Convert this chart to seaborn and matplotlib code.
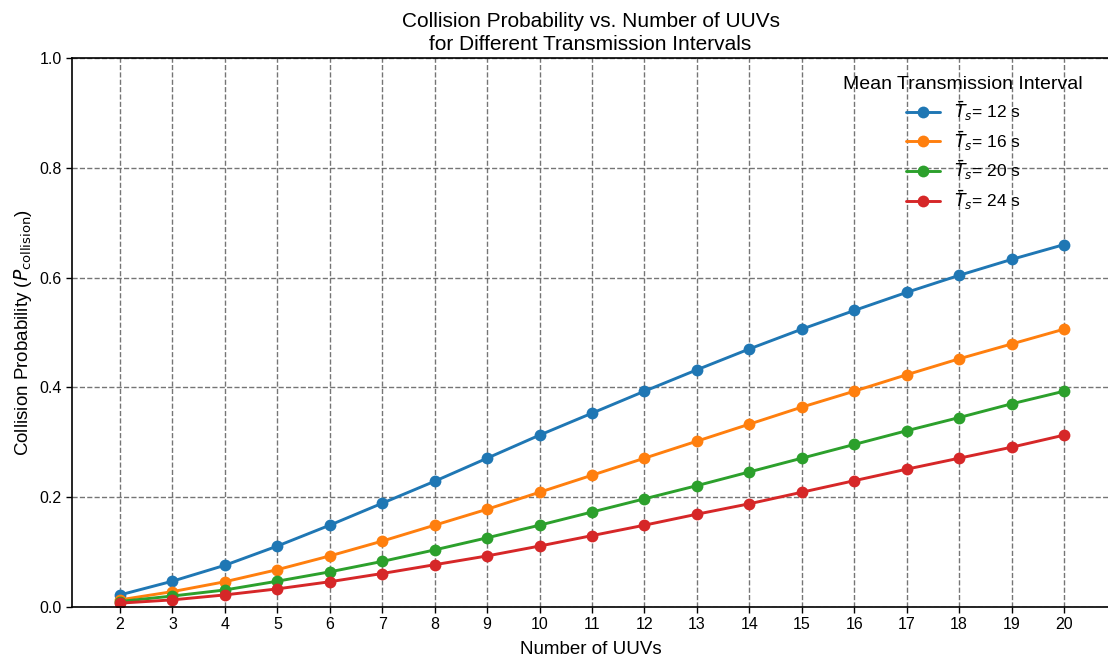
import matplotlib
matplotlib.use("Agg")
import matplotlib.pyplot as plt
import seaborn as sns
import pandas as pd

# Number of UUVs in the network
num_uuvs = list(range(2, 21))

# Mean transmission intervals (seconds)
intervals = [12, 16, 20, 24]

# Collision probability for each mean transmission interval
p_12 = [0.022, 0.047, 0.076, 0.111, 0.149, 0.189, 0.229, 0.271, 0.313, 0.353,
        0.393, 0.432, 0.470, 0.506, 0.540, 0.573, 0.604, 0.633, 0.660]
p_16 = [0.013, 0.028, 0.046, 0.068, 0.093, 0.120, 0.149, 0.178, 0.209, 0.240,
        0.271, 0.302, 0.333, 0.364, 0.393, 0.423, 0.452, 0.479, 0.506]
p_20 = [0.010, 0.020, 0.031, 0.047, 0.064, 0.083, 0.104, 0.126, 0.149, 0.173,
        0.197, 0.221, 0.246, 0.271, 0.296, 0.321, 0.345, 0.370, 0.393]
p_24 = [0.007, 0.013, 0.022, 0.033, 0.046, 0.061, 0.077, 0.093, 0.111, 0.130,
        0.149, 0.169, 0.188, 0.209, 0.230, 0.251, 0.271, 0.291, 0.313]

series = [p_12, p_16, p_20, p_24]
labels = [rf"$\bar{{T}}_s$= {t} s" for t in intervals]

df = pd.concat(
    [pd.DataFrame({"N": num_uuvs, "P": vals, "Interval": lab})
     for vals, lab in zip(series, labels)],
    ignore_index=True,
)

sns.set_theme(style="ticks")
plt.rcParams["font.family"] = ["Liberation Sans", "DejaVu Sans"]
plt.rcParams.update({
    "text.color": "black",
    "axes.labelcolor": "black",
    "xtick.color": "black",
    "ytick.color": "black",
})

fig = plt.figure(figsize=(11.08, 6.56), dpi=100)
ax = fig.add_axes([0.065, 0.0747, 0.936, 0.837])

sns.lineplot(
    data=df, x="N", y="P", hue="Interval", hue_order=labels,
    palette="tab10", marker="o", markersize=8.5, markeredgewidth=0,
    linewidth=2.1, ax=ax,
)

ax.set_xlim(1.085, 20.86)
ax.set_ylim(0, 1.0)
ax.set_xticks(num_uuvs)
ax.set_yticks([0.0, 0.2, 0.4, 0.6, 0.8, 1.0])
ax.tick_params(axis="both", labelsize=11.5, length=4, width=1, colors="black")
ax.grid(True, linestyle="--", color="#666666", linewidth=1, alpha=0.9)
for s in ax.spines.values():
    s.set_color("black")
    s.set_linewidth(1.2)

ax.set_xlabel("Number of UUVs", fontsize=13.5, labelpad=6, color="black")
ax.set_ylabel(r"Collision Probability ($P_{\mathrm{collision}}$)", fontsize=13.5,
              color="black")
ax.set_title("Collision Probability vs. Number of UUVs\nfor Different Transmission Intervals",
             fontsize=15, linespacing=1.25, color="black")

leg = ax.legend(title="Mean Transmission Interval", loc="upper right",
                frameon=False, fontsize=12.5, title_fontsize=14,
                labelspacing=0.35, bbox_to_anchor=(0.99, 0.995))
for t in leg.get_texts():
    t.set_color("black")
leg.get_title().set_color("black")

fig.savefig("out.png", dpi=100)
